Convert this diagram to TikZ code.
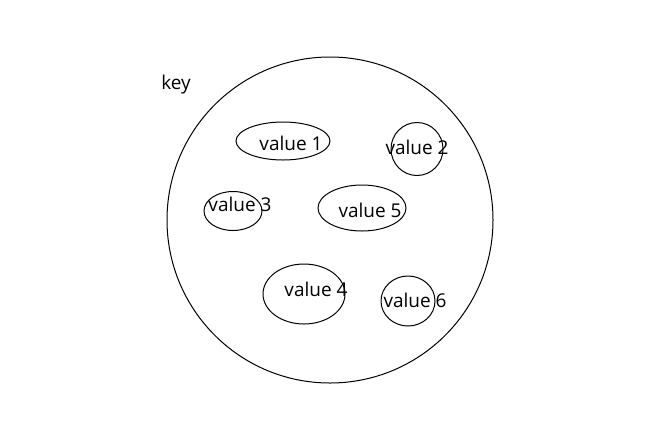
\documentclass[tikz,border=0pt]{standalone}
\usepackage{fontspec}
\setmainfont{Open Sans}
\usetikzlibrary{shapes.geometric}

\begin{document}
\begin{tikzpicture}[x=1pt,y=-1pt,line width=1pt,
  blob/.style={ellipse,draw,inner sep=0pt},
  word/.style={anchor=base,inner sep=0pt,font=\fontsize{19}{22}\selectfont}]
\useasboundingbox (0,0) rectangle (660,440);
\node[circle,draw,inner sep=0pt,minimum size=326pt] (keyset) at (330,220) {};
\node[word] (key) at (176,89) {key};
\node[blob,minimum width=94pt,minimum height=38pt] (v1) at (283,141) {};
\node[blob,minimum width=52pt,minimum height=53pt] (v2) at (417,149) {};
\node[blob,minimum width=58pt,minimum height=39pt] (v3) at (233,211) {};
\node[blob,minimum width=88pt,minimum height=46pt] (v5) at (362,208) {};
\node[blob,minimum width=82pt,minimum height=60pt] (v4) at (304,294) {};
\node[blob,minimum width=54pt,minimum height=50pt] (v6) at (408,301) {};
\node[word] (t1) at (291,150) {value 1};
\node[word] (t2) at (417,154) {value 2};
\node[word] (t3) at (240,211) {value 3};
\node[word] (t5) at (370,217) {value 5};
\node[word] (t4) at (316,296) {value 4};
\node[word] (t6) at (415,307) {value 6};
\end{tikzpicture}
\end{document}
